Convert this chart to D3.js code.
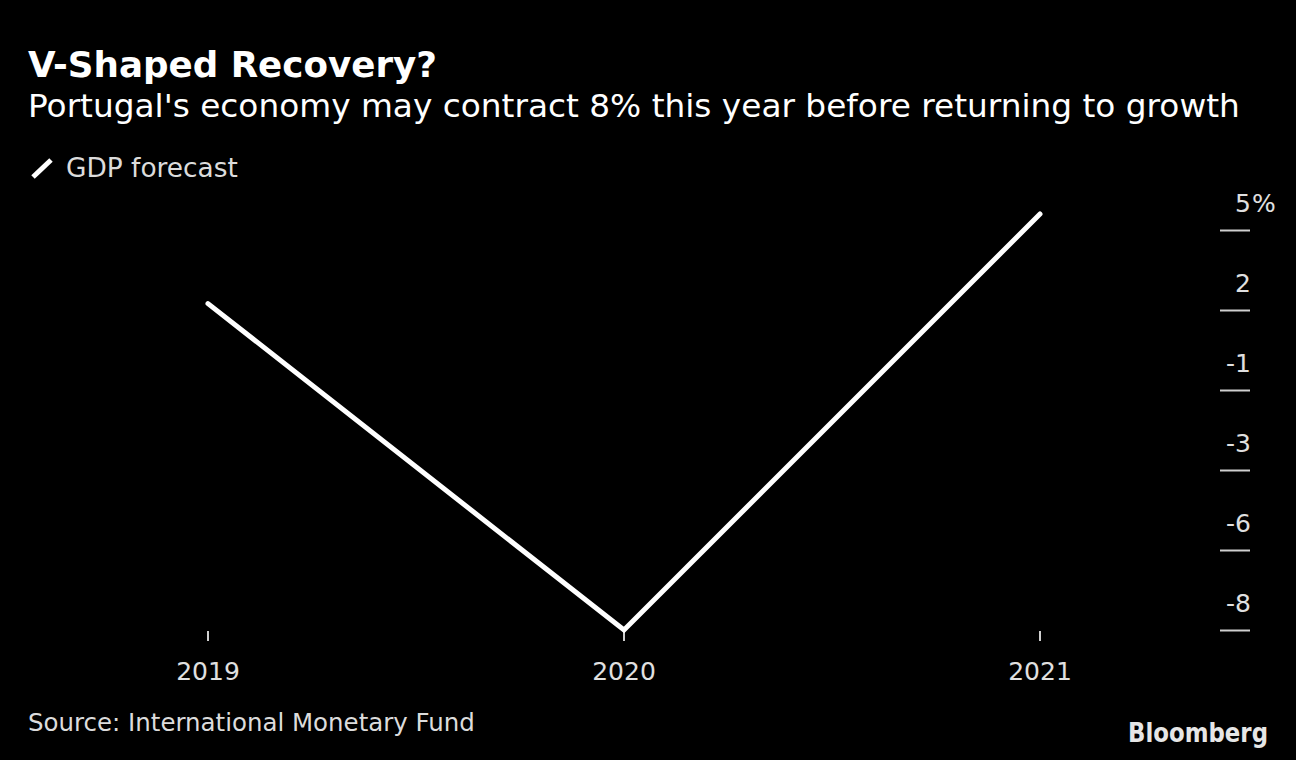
<!DOCTYPE html>
<html>
<head>
<meta charset="utf-8">
<script src="https://cdn.jsdelivr.net/npm/d3@7"></script>
<style>
  html, body { margin: 0; padding: 0; background: #000; }
  svg { display: block; }
  text { font-family: "DejaVu Sans", sans-serif; }
</style>
</head>
<body>
<svg id="chart" width="1296" height="760"></svg>
<script>
const years = ["2019", "2020", "2021"];
const gdpForecast = [2.2, -8.0, 5.0];
const yTickValues = [4.5, 2, -0.5, -3, -5.5, -8];
const yTickLabels = ["5", "2", "-1", "-3", "-6", "-8"];
const yUnitSuffix = "%";
const titleText = "V-Shaped Recovery?";
const subtitleText = "Portugal's economy may contract 8% this year before returning to growth";
const legendText = "GDP forecast";
const sourceText = "Source: International Monetary Fund";

const svg = d3.select("#chart");
svg.append("rect").attr("width", 1296).attr("height", 760).attr("fill", "#000");

function fitText(sel, targetWidth) {
  const node = sel.node();
  const w = node.getComputedTextLength();
  const fs = parseFloat(sel.attr("font-size"));
  sel.attr("font-size", (fs * targetWidth / w).toFixed(2));
}

// Title
const title = svg.append("text").attr("x", 28).attr("y", 77)
  .attr("font-size", 32).attr("font-weight", "bold").attr("fill", "#fff").text(titleText);
fitText(title, 409);
const subtitle = svg.append("text").attr("x", 28).attr("y", 117)
  .attr("font-size", 28).attr("fill", "#fff").text(subtitleText);
fitText(subtitle, 1212);

// Legend
svg.append("line").attr("x1", 33).attr("y1", 177).attr("x2", 51).attr("y2", 160)
  .attr("stroke", "#fff").attr("stroke-width", 5);
const leg = svg.append("text").attr("x", 66).attr("y", 177)
  .attr("font-size", 26).attr("fill", "#dcdcdc").text(legendText);
fitText(leg, 172);

// Scales
const x = d3.scalePoint().domain(years).range([208, 1040]);
const y = d3.scaleLinear().domain([-8, 5]).range([630, 214]);

// Y axis (right)
const yg = svg.append("g");
yg.selectAll("line.tick").data(yTickValues).join("line")
  .attr("class", "tick")
  .attr("x1", 1220).attr("x2", 1250)
  .attr("y1", d => Math.round(y(d)) + 0.5).attr("y2", d => Math.round(y(d)) + 0.5)
  .attr("stroke", "#cfcfcf").attr("stroke-width", 2);
yg.selectAll("text.lab").data(yTickValues).join("text")
  .attr("class", "lab")
  .attr("x", 1251).attr("y", d => y(d) - 18)
  .attr("text-anchor", "end").attr("font-size", 25).attr("fill", "#e0e0e0")
  .text((d, i) => yTickLabels[i]);
yg.append("text").attr("x", 1252).attr("y", y(yTickValues[0]) - 18)
  .attr("font-size", 25).attr("fill", "#e0e0e0").text(yUnitSuffix);

// X axis
const xg = svg.append("g");
xg.selectAll("line").data(years).join("line")
  .attr("x1", d => x(d)).attr("x2", d => x(d))
  .attr("y1", 631).attr("y2", 641)
  .attr("stroke", "#cfcfcf").attr("stroke-width", 2);
xg.selectAll("text").data(years).join("text")
  .attr("x", d => x(d)).attr("y", 680)
  .attr("text-anchor", "middle").attr("font-size", 25).attr("fill", "#e0e0e0")
  .text(d => d);

// Line
const line = d3.line().x((d, i) => x(years[i])).y(d => y(d));
svg.append("path").datum(gdpForecast)
  .attr("d", line).attr("fill", "none")
  .attr("stroke", "#fff").attr("stroke-width", 5)
  .attr("stroke-linejoin", "miter").attr("stroke-linecap", "round");

// Source
const src = svg.append("text").attr("x", 28).attr("y", 731)
  .attr("font-size", 24).attr("fill", "#dcdcdc").text(sourceText);
fitText(src, 447);

// Bloomberg logo
svg.append("text").attr("x", 1128).attr("y", 742)
  .attr("font-size", 26).attr("font-weight", "bold").attr("fill", "#e6e6e6")
  .attr("font-family", "'Liberation Sans', Arial, sans-serif")
  .attr("textLength", 140).attr("lengthAdjust", "spacingAndGlyphs")
  .text("Bloomberg");
</script>
</body>
</html>
